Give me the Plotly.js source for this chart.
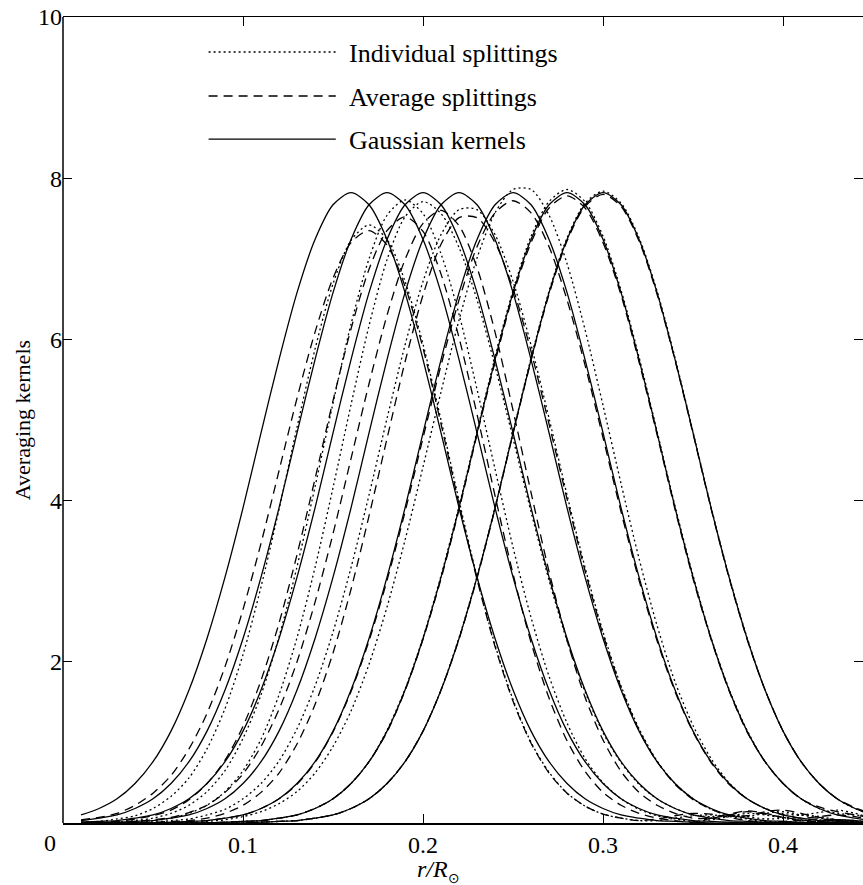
<!DOCTYPE html>
<html>
<head>
<meta charset="utf-8">
<script src="https://cdn.plot.ly/plotly-3.0.1.min.js"></script>
<style>html,body{margin:0;padding:0;background:#fff;}#chart{width:863px;height:885px;}</style>
</head>
<body>
<div id="chart"></div>
<script>
// radius grid r/R_sun: 0.01 ... 0.46 in steps of 0.01
const r = [0.01,0.02,0.03,0.04,0.05,0.06,0.07,0.08,0.09,0.10,
           0.11,0.12,0.13,0.14,0.15,0.16,0.17,0.18,0.19,0.20,
           0.21,0.22,0.23,0.24,0.25,0.26,0.27,0.28,0.29,0.30,
           0.31,0.32,0.33,0.34,0.35,0.36,0.37,0.38,0.39,0.40,
           0.41,0.42,0.43,0.44,0.45,0.46];

// Gaussian (target) kernels — solid
const gauss16 = [0.10,0.18,0.30,0.49,0.76,1.14,1.65,2.29,3.05,3.91,4.84,5.75,6.58,7.24,7.67,7.82,7.67,7.24,6.58,5.75,4.84,3.91,3.05,2.29,1.65,1.14,0.76,0.49,0.30,0.18,0.10,0.06,0.03,0.02,0.01,0,0,0,0,0,0,0,0,0,0,0];
const gauss18 = [0.03,0.06,0.10,0.18,0.30,0.49,0.76,1.14,1.65,2.29,3.05,3.91,4.84,5.75,6.58,7.24,7.67,7.82,7.67,7.24,6.58,5.75,4.84,3.91,3.05,2.29,1.65,1.14,0.76,0.49,0.30,0.18,0.10,0.06,0.03,0.02,0.01,0,0,0,0,0,0,0,0,0];
const gauss20 = [0.01,0.02,0.03,0.06,0.10,0.18,0.30,0.49,0.76,1.14,1.65,2.29,3.05,3.91,4.84,5.75,6.58,7.24,7.67,7.82,7.67,7.24,6.58,5.75,4.84,3.91,3.05,2.29,1.65,1.14,0.76,0.49,0.30,0.18,0.10,0.06,0.03,0.02,0.01,0,0,0,0,0,0,0];
const gauss22 = [0,0,0.01,0.02,0.03,0.06,0.10,0.18,0.30,0.49,0.76,1.14,1.65,2.29,3.05,3.91,4.84,5.75,6.58,7.24,7.67,7.82,7.67,7.24,6.58,5.75,4.84,3.91,3.05,2.29,1.65,1.14,0.76,0.49,0.30,0.18,0.10,0.06,0.03,0.02,0.01,0,0,0,0,0];
const gauss25 = [0,0,0,0,0,0.01,0.02,0.03,0.06,0.10,0.18,0.30,0.49,0.76,1.14,1.65,2.29,3.05,3.91,4.84,5.75,6.58,7.24,7.67,7.82,7.67,7.24,6.58,5.75,4.84,3.91,3.05,2.29,1.65,1.14,0.76,0.49,0.30,0.18,0.10,0.06,0.03,0.02,0.01,0,0];
const gauss28 = [0,0,0,0,0,0,0,0,0.01,0.02,0.03,0.06,0.10,0.18,0.30,0.49,0.76,1.14,1.65,2.29,3.05,3.91,4.84,5.75,6.58,7.24,7.67,7.82,7.67,7.24,6.58,5.75,4.84,3.91,3.05,2.29,1.65,1.14,0.76,0.49,0.30,0.18,0.10,0.06,0.03,0.02];
const gauss30 = [0,0,0,0,0,0,0,0,0,0,0.01,0.02,0.03,0.06,0.10,0.18,0.30,0.49,0.76,1.14,1.65,2.29,3.05,3.91,4.84,5.75,6.58,7.24,7.67,7.82,7.67,7.24,6.58,5.75,4.84,3.91,3.05,2.29,1.65,1.14,0.76,0.49,0.30,0.18,0.10,0.06];

// Individual splittings — dotted
const indiv16 = [0.01,0.02,0.05,0.09,0.18,0.33,0.56,0.92,1.42,2.09,2.93,3.89,4.91,5.88,6.69,7.23,7.42,7.24,6.72,5.94,5.00,4.00,3.05,2.21,1.53,1.00,0.63,0.37,0.21,0.11,0.06,0.03,0.03,0.06,0.09,0.10,0.08,0.05,0.02,0.01,0.03,0.04,0.03,0.01,0.00,0.00];
const indiv18 = [0.00,0.01,0.01,0.03,0.06,0.12,0.22,0.39,0.65,1.05,1.59,2.31,3.18,4.17,5.21,6.19,7.00,7.54,7.73,7.56,7.06,6.31,5.38,4.39,3.42,2.55,1.82,1.24,0.80,0.50,0.30,0.17,0.09,0.05,0.02,0.04,0.08,0.12,0.10,0.06,0.03,0.02,0.03,0.02,0.01,0.00];
const indiv20 = [0.00,0.00,0.01,0.01,0.03,0.06,0.12,0.22,0.39,0.65,1.04,1.59,2.30,3.17,4.16,5.19,6.17,6.99,7.52,7.71,7.56,7.14,6.49,5.67,4.77,3.86,3.01,2.26,1.63,1.12,0.75,0.48,0.30,0.18,0.10,0.08,0.10,0.08,0.05,0.06,0.10,0.08,0.04,0.02,0.01,0.00];
const indiv22 = [0.00,0.00,0.00,0.01,0.01,0.03,0.05,0.10,0.17,0.30,0.49,0.77,1.17,1.70,2.37,3.17,4.07,5.02,5.93,6.72,7.30,7.61,7.61,7.30,6.72,5.93,5.02,4.07,3.17,2.37,1.70,1.17,0.77,0.49,0.30,0.17,0.10,0.08,0.12,0.14,0.10,0.06,0.03,0.02,0.01,0.00];
const indiv25 = [0,0,0,0,0,0.01,0.01,0.02,0.04,0.08,0.14,0.24,0.39,0.62,0.95,1.39,1.97,2.68,3.51,4.42,5.35,6.24,7.01,7.57,7.86,7.86,7.54,6.94,6.12,5.18,4.21,3.28,2.45,1.75,1.21,0.80,0.50,0.30,0.18,0.12,0.10,0.13,0.16,0.12,0.06,0.03];
const indiv28 = [0,0,0,0,0,0,0,0,0.01,0.02,0.03,0.06,0.10,0.18,0.30,0.49,0.76,1.15,1.66,2.30,3.07,3.93,4.86,5.78,6.61,7.28,7.71,7.86,7.71,7.28,6.61,5.78,4.86,3.93,3.07,2.30,1.66,1.15,0.76,0.49,0.30,0.18,0.12,0.10,0.08,0.05];
const indiv30 = [0,0,0,0,0,0,0,0,0,0,0.01,0.02,0.03,0.06,0.10,0.18,0.30,0.49,0.76,1.14,1.65,2.30,3.06,3.92,4.85,5.77,6.60,7.26,7.69,7.84,7.69,7.26,6.60,5.77,4.85,3.92,3.06,2.30,1.65,1.14,0.76,0.49,0.30,0.18,0.12,0.08];

// Average splittings — dashed
const avg16 = [0.04,0.07,0.12,0.22,0.37,0.59,0.92,1.36,1.94,2.65,3.47,4.37,5.27,6.09,6.76,7.20,7.35,7.17,6.66,5.89,4.95,3.96,3.02,2.19,1.51,0.99,0.62,0.37,0.21,0.11,0.06,0.03,0.05,0.09,0.12,0.11,0.07,0.03,0.01,0.02,0.04,0.05,0.03,0.01,0.00,0.00];
const avg18 = [0.01,0.01,0.02,0.05,0.09,0.16,0.29,0.49,0.78,1.20,1.77,2.48,3.33,4.27,5.24,6.13,6.87,7.35,7.52,7.34,6.81,6.02,5.07,4.06,3.09,2.24,1.55,1.02,0.64,0.38,0.22,0.12,0.06,0.03,0.01,0.06,0.11,0.15,0.12,0.07,0.03,0.02,0.04,0.03,0.01,0.00];
const avg20 = [0.00,0.00,0.01,0.02,0.04,0.07,0.13,0.22,0.38,0.61,0.95,1.41,2.00,2.74,3.59,4.52,5.45,6.30,6.99,7.44,7.60,7.41,6.89,6.09,5.12,4.10,3.12,2.27,1.56,1.03,0.64,0.38,0.22,0.12,0.06,0.06,0.10,0.14,0.11,0.07,0.04,0.02,0.04,0.03,0.01,0.00];
const avg22 = [0.00,0.00,0.00,0.00,0.01,0.02,0.03,0.06,0.12,0.22,0.38,0.62,0.98,1.47,2.11,2.90,3.81,4.77,5.72,6.55,7.18,7.51,7.51,7.20,6.63,5.85,4.95,4.02,3.13,2.34,1.68,1.15,0.76,0.48,0.29,0.17,0.09,0.09,0.14,0.16,0.12,0.07,0.04,0.03,0.01,0.00];
const avg25 = [0,0,0,0,0,0.01,0.02,0.03,0.06,0.10,0.18,0.30,0.48,0.75,1.13,1.63,2.26,3.01,3.86,4.78,5.68,6.49,7.15,7.57,7.72,7.57,7.15,6.49,5.68,4.78,3.86,3.01,2.26,1.63,1.13,0.75,0.48,0.30,0.18,0.10,0.06,0.08,0.10,0.08,0.04,0.02];
const avg28 = [0,0,0,0,0,0,0,0,0.01,0.02,0.03,0.06,0.10,0.18,0.30,0.49,0.76,1.13,1.64,2.28,3.03,3.89,4.82,5.72,6.55,7.20,7.63,7.78,7.63,7.20,6.55,5.72,4.82,3.89,3.03,2.28,1.64,1.13,0.76,0.49,0.30,0.20,0.14,0.10,0.06,0.03];
const avg30 = [0,0,0,0,0,0,0,0,0,0,0.01,0.02,0.03,0.06,0.10,0.18,0.30,0.49,0.76,1.14,1.65,2.28,3.04,3.90,4.83,5.74,6.56,7.22,7.65,7.80,7.65,7.22,6.56,5.74,4.83,3.90,3.04,2.28,1.65,1.14,0.76,0.49,0.30,0.19,0.11,0.07];

const xTicks = [0.1,0.2,0.3,0.4];
const xTickText = ['0.1','0.2','0.3','0.4'];
const yTicks = [2,4,6,8,10];
const yTickText = ['2','4','6','8','10'];
const legendLabels = ['Individual splittings','Average splittings','Gaussian kernels'];

const DOT = '2px,3px';
const DASH = '9px,6px';
const LW = 1.3;

const indivSet = [indiv16,indiv18,indiv20,indiv22,indiv25,indiv28,indiv30];
const avgSet = [avg16,avg18,avg20,avg22,avg25,avg28,avg30];
const gaussSet = [gauss16,gauss18,gauss20,gauss22,gauss25,gauss28,gauss30];

const traces = [];
function addSet(set, dash, name) {
  set.forEach(function (y) {
    traces.push({
      x: r, y: y, type: 'scatter', mode: 'lines', name: name,
      showlegend: false, hoverinfo: 'skip',
      line: {color: '#000', width: LW, dash: dash, shape: 'spline', smoothing: 0.8}
    });
  });
}
addSet(indivSet, DOT, legendLabels[0]);
addSet(avgSet, DASH, legendLabels[1]);
addSet(gaussSet, 'solid', legendLabels[2]);

const FONT = 'Liberation Serif, Times New Roman, Times, serif';

// manual legend with long line samples
const legRows = [0.9566, 0.902, 0.8486];
const legDash = [DOT, DASH, 'solid'];
const shapes = legRows.map(function (yy, i) {
  return {type: 'line', xref: 'paper', yref: 'paper', x0: 0.182, x1: 0.341, y0: yy, y1: yy,
          line: {color: '#000', width: LW, dash: legDash[i]}};
});
// left frame line (right frame edge lies outside the figure in the reference)
shapes.push({type: 'line', xref: 'paper', yref: 'paper', x0: 0, x1: 0, y0: 0, y1: 1,
             line: {color: '#000', width: 1.5}});

const annotations = legRows.map(function (yy, i) {
  return {xref: 'paper', yref: 'paper', x: 0.355, y: yy - 0.002, xanchor: 'left', yanchor: 'middle',
          text: legendLabels[i], showarrow: false, font: {family: FONT, size: 26, color: '#000'}};
});
annotations.push({xref: 'paper', yref: 'paper', x: -0.0163, y: -0.025, xanchor: 'center', yanchor: 'middle',
  text: '0', showarrow: false, font: {family: FONT, size: 24, color: '#000'}});
annotations.push({xref: 'paper', yref: 'paper', x: -0.051, y: 0.5, xanchor: 'center', yanchor: 'middle',
  textangle: -90, text: 'Averaging kernels', showarrow: false, font: {family: FONT, size: 22, color: '#000'}});
annotations.push({xref: 'x', yref: 'paper', x: 0.2148, y: -0.0565, xanchor: 'right', yanchor: 'middle',
  text: 'r/R', showarrow: false, font: {family: FONT, size: 24, color: '#000', style: 'italic'}});
annotations.push({xref: 'x', yref: 'paper', x: 0.2128, y: -0.0685, xanchor: 'left', yanchor: 'middle',
  text: '⊙', showarrow: false, font: {family: 'DejaVu Sans, sans-serif', size: 14, color: '#000'}});

const layout = {
  width: 863, height: 885,
  margin: {l: 63, r: 0, t: 17, b: 62, pad: 0},
  paper_bgcolor: '#fff', plot_bgcolor: '#fff',
  font: {family: FONT, size: 24, color: '#000'},
  showlegend: false,
  xaxis: {
    range: [0, 0.4444], tickvals: xTicks, ticktext: xTickText,
    ticks: 'inside', ticklen: 9, tickwidth: 1, tickcolor: '#000',
    showline: true, linecolor: '#000', linewidth: 1.5, mirror: 'ticks',
    showgrid: false, zeroline: false, tickfont: {family: FONT, size: 24, color: '#000'}
  },
  yaxis: {
    range: [0, 10], tickvals: yTicks, ticktext: yTickText,
    ticks: 'inside', ticklen: 9, tickwidth: 1, tickcolor: '#000',
    showline: false, mirror: 'ticks',
    showgrid: false, zeroline: false, tickfont: {family: FONT, size: 24, color: '#000'}
  },
  shapes: shapes,
  annotations: annotations
};

Plotly.newPlot('chart', traces, layout, {staticPlot: true, displayModeBar: false});
</script>
</body>
</html>
